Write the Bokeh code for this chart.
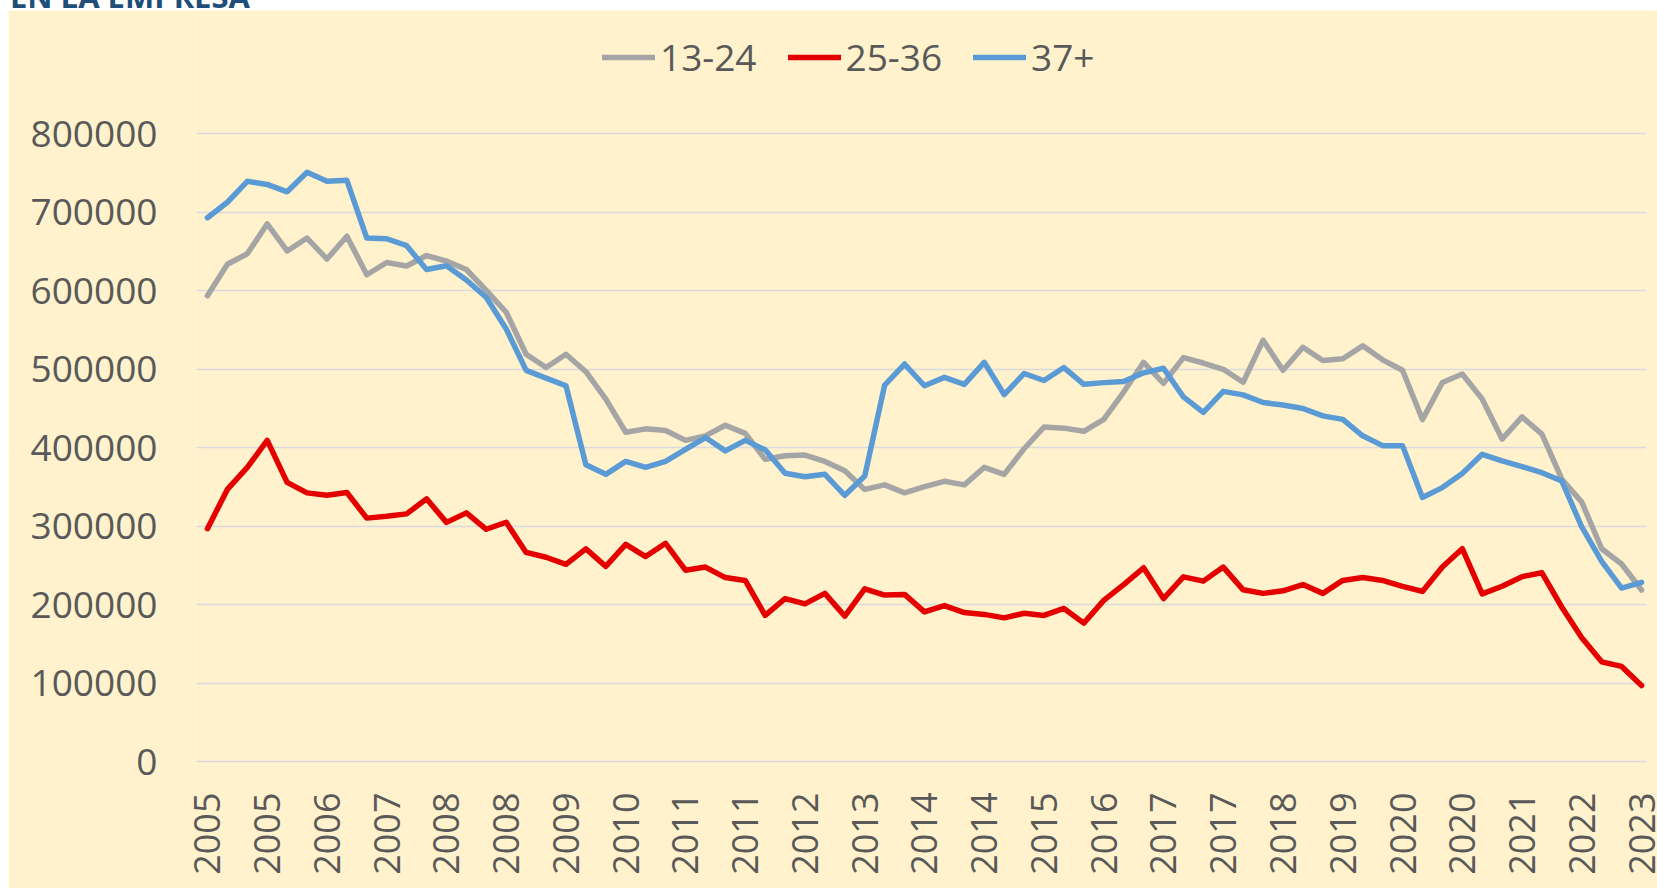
import math
from bokeh.plotting import figure
from bokeh.layouts import column, row
from bokeh.models import (FixedTicker, Legend, LegendItem, Range1d, Div, Spacer,
                          NumeralTickFormatter, ColumnDataSource)
from bokeh.embed import file_html
from bokeh.resources import INLINE

# ---- data (quarterly, 2005 T1 .. 2023 T1) ----
title_text = "EN LA EMPRESA"
series_names = ["13-24", "25-36", "37+"]

tick_labels = ["2005", "2005", "2006", "2007", "2008", "2008", "2009", "2010",
               "2011", "2011", "2012", "2013", "2014", "2014", "2015", "2016",
               "2017", "2017", "2018", "2019", "2020", "2020", "2021", "2022",
               "2023"]

s13_24 = [593800, 634000, 647300, 685300, 650900, 667400, 640600, 669700,
          620600, 636200, 631700, 645100, 638000, 627300, 600500, 572800,
          519300, 502300, 519300, 497000, 462100, 419800, 424200, 422000,
          409500, 415300, 428700, 418400, 385400, 389900, 390800, 382700,
          370700, 347000, 352800, 342600, 350600, 357300, 352800, 375100,
          366200, 398800, 426500, 425100, 421100, 436300, 471100, 509000,
          482200, 515000, 508100, 500100, 483600, 537100, 498800, 528200,
          511300, 513500, 530000, 512100, 498800, 436000, 483300, 494000,
          462300, 411200, 439400, 417500, 360000, 330800, 271400, 251900,
          218800]

s25_36 = [297000, 347000, 375100, 409500, 355900, 342600, 339500, 343000,
          310400, 312700, 315800, 335000, 305000, 317100, 296200, 305100,
          266700, 260500, 251500, 271200, 248900, 277000, 261400, 278300,
          244000, 248000, 234600, 231000, 186400, 207800, 201100, 214500,
          185500, 220300, 212300, 213200, 190900, 198900, 190000, 187700,
          183300, 189100, 186400, 195300, 176600, 205600, 225700, 247100,
          207800, 235500, 230100, 248000, 219000, 214500, 217700, 225700,
          214500, 231000, 234600, 231000, 223500, 217000, 248000, 271400,
          213900, 223600, 235800, 240700, 196800, 157900, 127200, 121400,
          97000]

s37_plus = [693300, 713000, 739700, 735700, 726300, 751300, 739700, 741000,
            667400, 666500, 657600, 627300, 632000, 613900, 591600, 551400,
            498700, 488900, 479100, 378300, 366200, 382700, 375100, 382700,
            398000, 413100, 396100, 409500, 397500, 367600, 363100, 366200,
            339500, 364000, 480000, 506800, 479100, 489800, 480900, 509000,
            467900, 494700, 485800, 502300, 480900, 483100, 484400, 495600,
            501400, 465000, 445200, 472000, 467500, 457700, 454600, 450100,
            440700, 436300, 415300, 402800, 402800, 336700, 349300, 367300,
            391700, 383400, 376100, 368300, 357600, 299100, 255300, 221200,
            228500]

y_ticks = [0, 100000, 200000, 300000, 400000, 500000, 600000, 700000, 800000]

# ---- styling ----
FONT = "Open Sans"
TXT = "#595959"
CREAM = "#FFF2CC"
colors = ["#A5A5A5", "#E50000", "#5B9BD5"]

x = list(range(len(s13_24)))
tick_pos = x[::3]

# frame reaches the top of the chart so the legend sits inside it;
# gridlines/ticks stop at 800000
p = figure(width=1649, height=878, output_backend="svg", toolbar_location=None,
           x_range=Range1d(-0.55, 72.25), y_range=Range1d(-10000, 957400),
           min_border_left=188, min_border_right=11,
           min_border_top=0, min_border_bottom=119)
p.background_fill_color = CREAM
p.border_fill_color = CREAM
p.outline_line_color = None

src = ColumnDataSource(dict(x=x, a=s13_24, b=s25_36, c=s37_plus))
renderers = []
for col, colr in zip(["a", "b", "c"], colors):
    r = p.line("x", col, source=src, line_color=colr, line_width=5.5,
               line_join="round", line_cap="round")
    renderers.append(r)

# axes
p.xaxis.ticker = FixedTicker(ticks=tick_pos)
p.xaxis.major_label_overrides = {t: lab for t, lab in zip(tick_pos, tick_labels)}
p.xaxis.major_label_orientation = math.pi / 2
p.yaxis.ticker = FixedTicker(ticks=y_ticks)
p.yaxis.formatter = NumeralTickFormatter(format="0")
for ax in (p.xaxis, p.yaxis):
    ax.axis_line_color = None
    ax.major_tick_line_color = None
    ax.minor_tick_line_color = None
    ax.major_tick_out = 0
    ax.major_tick_in = 0
    ax.minor_tick_out = 0
    ax.minor_tick_in = 0
    ax.major_label_text_font = FONT
    ax.major_label_text_font_size = "37px"
    ax.major_label_text_color = TXT
p.xaxis.major_label_text_font_size = "36px"
p.xaxis.major_label_standoff = 23
p.yaxis.major_label_standoff = 39

p.xgrid.visible = False
p.ygrid.grid_line_color = "#D9D9DE"
p.ygrid.grid_line_width = 1.5

legend = Legend(items=[LegendItem(label=n, renderers=[r])
                       for n, r in zip(series_names, renderers)],
                orientation="horizontal", location=(406, 687),
                padding=0, margin=0, spacing=31, label_standoff=5,
                glyph_width=53, glyph_height=50, label_height=50,
                border_line_alpha=0, background_fill_alpha=0,
                label_text_font=FONT, label_text_font_size="37px",
                label_text_color=TXT)
p.add_layout(legend, "center")

title_div = Div(
    text=(f'<div style="position:relative; top:-19px; left:10px; '
          f'font-family:\'Open Sans\'; font-weight:bold; font-size:31px; '
          f'line-height:30px; color:#1F4E79; white-space:nowrap;">'
          f'{title_text}</div>'),
    width=1657, height=10, styles={"overflow": "hidden", "margin": "0"})

layout = column(title_div, row(Spacer(width=8, height=878), p, spacing=0),
                spacing=0)

open("out.html", "w").write(file_html(layout, INLINE))
